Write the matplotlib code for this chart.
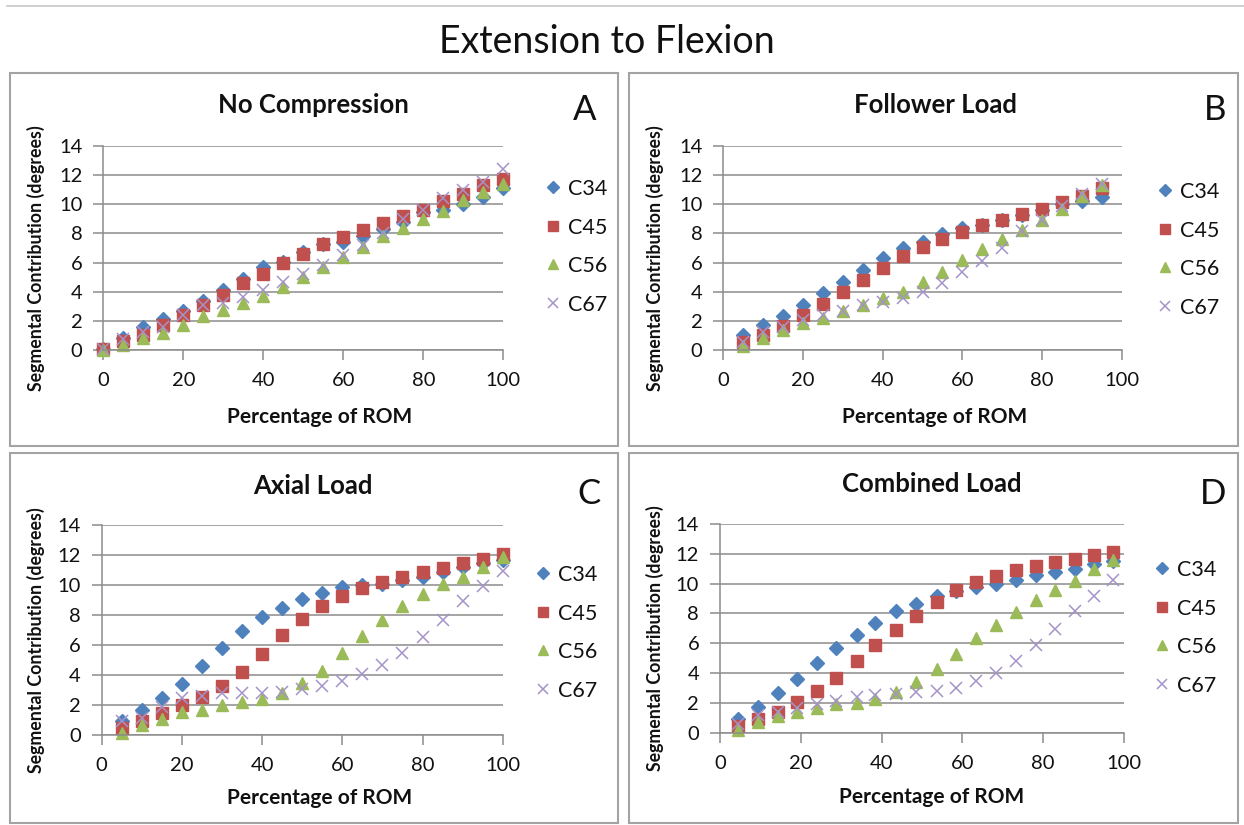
import matplotlib
matplotlib.use('Agg')
import matplotlib.pyplot as plt
from matplotlib.patches import Rectangle
from matplotlib.lines import Line2D

plt.rcParams['font.family'] = ['Lato', 'DejaVu Sans']

series_names = ['C34', 'C45', 'C56', 'C67']
panel_titles = ['No Compression', 'Follower Load', 'Axial Load', 'Combined Load']
panel_letters = ['A', 'B', 'C', 'D']
x_ticks = [0, 20, 40, 60, 80, 100]
y_ticks = [0, 2, 4, 6, 8, 10, 12, 14]

# Panel A: No Compression
x_a = [0, 5, 10, 15, 20, 25, 30, 35, 40, 45, 50, 55, 60, 65, 70, 75, 80, 85, 90, 95, 100]
a_c34 = [0.1, 0.8, 1.55, 2.1, 2.67, 3.35, 4.1, 4.9, 5.7, 6.05, 6.75, 7.3, 7.4, 7.8, 8.3, 8.8, 9.5, 9.6, 10.05, 10.5, 11.1]
a_c45 = [0.1, 0.6, 1.0, 1.7, 2.4, 3.1, 3.77, 4.57, 5.25, 5.95, 6.6, 7.25, 7.75, 8.25, 8.7, 9.2, 9.6, 10.2, 10.7, 11.3, 11.75]
a_c56 = [0.0, 0.35, 0.8, 1.2, 1.75, 2.3, 2.75, 3.25, 3.72, 4.35, 5.0, 5.7, 6.4, 7.1, 7.8, 8.4, 9.0, 9.55, 10.3, 10.85, 11.4]
a_c67 = [0.05, 0.75, 1.25, 1.6, 2.4, 3.1, 3.2, 3.65, 4.15, 4.7, 5.2, 5.8, 6.5, 7.2, 8.0, 9.0, 9.6, 10.4, 11.0, 11.5, 12.45]

# Panel B: Follower Load
x_b = [5, 10, 15, 20, 25, 30, 35, 40, 45, 50, 55, 60, 65, 70, 75, 80, 85, 90, 95]
b_c34 = [1.0, 1.7, 2.3, 3.1, 3.9, 4.7, 5.5, 6.3, 7.0, 7.4, 7.95, 8.4, 8.6, 8.95, 9.25, 9.6, 10.0, 10.25, 10.5]
b_c45 = [0.55, 1.0, 1.65, 2.4, 3.15, 3.95, 4.8, 5.65, 6.45, 7.1, 7.65, 8.1, 8.55, 8.95, 9.35, 9.7, 10.15, 10.55, 11.1]
b_c56 = [0.3, 0.8, 1.4, 1.85, 2.2, 2.65, 3.1, 3.55, 4.0, 4.7, 5.35, 6.15, 6.9, 7.6, 8.25, 8.95, 9.65, 10.6, 11.3]
b_c67 = [0.55, 1.25, 1.6, 2.05, 2.4, 2.65, 3.1, 3.3, 3.55, 4.0, 4.6, 5.35, 6.1, 7.0, 8.15, 8.95, 9.85, 10.7, 11.4]

# Panel C: Axial Load
x_c = [5, 10, 15, 20, 25, 30, 35, 40, 45, 50, 55, 60, 65, 70, 75, 80, 85, 90, 95, 100]
c_c34 = [0.95, 1.67, 2.45, 3.4, 4.6, 5.8, 6.95, 7.9, 8.5, 9.05, 9.5, 9.85, 10.0, 10.1, 10.35, 10.55, 10.9, 11.2, 11.45, 11.65]
c_c45 = [0.45, 0.95, 1.45, 2.0, 2.55, 3.3, 4.2, 5.4, 6.65, 7.75, 8.6, 9.3, 9.8, 10.2, 10.55, 10.85, 11.15, 11.5, 11.75, 12.1]
c_c56 = [0.15, 0.67, 1.1, 1.55, 1.7, 2.0, 2.2, 2.4, 2.8, 3.5, 4.25, 5.45, 6.6, 7.65, 8.6, 9.4, 10.05, 10.55, 11.2, 11.9]
c_c67 = [0.95, 1.15, 1.9, 2.45, 2.6, 2.8, 2.8, 2.8, 2.9, 3.05, 3.3, 3.6, 4.05, 4.65, 5.5, 6.55, 7.7, 8.95, 9.95, 10.95]

# Panel D: Combined Load
x_d = [4.5, 9.5, 14.3, 19.1, 24.0, 28.8, 33.8, 38.4, 43.6, 48.4, 53.6, 58.3, 63.4, 68.4, 73.3, 78.1, 82.9, 87.8, 92.6, 97.4]
d_c34 = [0.9, 1.75, 2.65, 3.6, 4.7, 5.65, 6.55, 7.35, 8.15, 8.6, 9.2, 9.5, 9.75, 10.0, 10.25, 10.55, 10.75, 11.0, 11.3, 11.5]
d_c45 = [0.45, 0.9, 1.4, 2.05, 2.8, 3.7, 4.8, 5.85, 6.9, 7.85, 8.75, 9.55, 10.1, 10.5, 10.9, 11.15, 11.45, 11.65, 11.95, 12.15]
d_c56 = [0.18, 0.7, 1.1, 1.4, 1.65, 1.9, 2.0, 2.25, 2.7, 3.4, 4.3, 5.25, 6.35, 7.25, 8.1, 8.9, 9.6, 10.2, 10.95, 11.6]
d_c67 = [0.6, 1.2, 1.4, 1.65, 1.95, 2.15, 2.4, 2.5, 2.6, 2.7, 2.8, 3.0, 3.5, 4.0, 4.8, 5.85, 6.95, 8.15, 9.2, 10.25]

panels = [
    (x_a, [a_c34, a_c45, a_c56, a_c67]),
    (x_b, [b_c34, b_c45, b_c56, b_c67]),
    (x_c, [c_c34, c_c45, c_c56, c_c67]),
    (x_d, [d_c34, d_c45, d_c56, d_c67]),
]

W, H = 1244, 825
fig = plt.figure(figsize=(W / 100, H / 100), dpi=100)

def fx(px):
    return px / W

def fy(py):
    return 1 - py / H

grid_col = '#8c8c8c'
box_col = '#a3a3a3'
text_col = '#111111'

styles = [
    dict(marker='D', color='#4F81BD', ms=7.2, mec='#4F81BD'),
    dict(marker='s', color='#C0504D', ms=8.5, mec='#C0504D'),
    dict(marker='^', color='#9BBB59', ms=9, mec='#9BBB59'),
    dict(marker='x', color='#A593C8', ms=9, mew=1.1),
]

# top rule
fig.add_artist(Line2D([fx(7), fx(1244)], [fy(6), fy(6)], color='#c8c8c8', lw=1.2))
fig.text(fx(607), fy(42), 'Extension to Flexion', ha='center', va='center', fontsize=27, color=text_col)

# panel boxes (left, top, right, bottom)
boxes = [(10, 73, 618, 446), (629, 73, 1238, 446), (10, 453, 618, 823), (629, 453, 1238, 823)]
# axes areas (left, top, right, bottom) in px
axes_px = [(103.3, 146, 503.3, 350), (723.3, 146, 1121.7, 350), (101.7, 525, 502.7, 735), (720, 524, 1124, 732.7)]
title_pos = [(313, 105), (935, 105), (313, 486), (932, 484)]
letter_pos = [(585, 110), (1215, 110), (589, 494), (1213, 494)]
ylab_pos = [(36, 258), (655, 258), (36, 640), (655, 638)]
xlab_pos = [(320, 417), (935, 417), (320, 798), (932, 797)]
legend_pos = [(544, 179), (1156, 182), (534, 565), (1153, 560)]

for i, (xs, ys_list) in enumerate(panels):
    l, t, r, b = boxes[i]
    fig.add_artist(Rectangle((fx(l), fy(b)), fx(r - l), (b - t) / H, transform=fig.transFigure,
                             fill=False, ec=box_col, lw=1.5))
    al, at, ar, ab = axes_px[i]
    ax = fig.add_axes([fx(al), fy(ab), fx(ar - al), (ab - at) / H])
    for name, ys, st in zip(series_names, ys_list, styles):
        ax.plot(xs, ys, linestyle='none', label=name, clip_on=False, **st)
    ax.set_xlim(0, 100)
    ax.set_ylim(0, 14)
    ax.set_xticks(x_ticks)
    ax.set_yticks(y_ticks)
    ax.yaxis.grid(True, color=grid_col, lw=1.1)
    ax.set_axisbelow(True)
    for s in ['top', 'right']:
        ax.spines[s].set_visible(False)
    for s in ['left', 'bottom']:
        ax.spines[s].set_color(grid_col)
        ax.spines[s].set_linewidth(1.1)
    ax.tick_params(axis='both', direction='out', length=7, width=1.1, color=grid_col,
                   labelsize=14.5, labelcolor=text_col)
    ax.tick_params(axis='y', pad=8)
    ax.tick_params(axis='x', pad=9)
    fig.text(fx(title_pos[i][0]), fy(title_pos[i][1]), panel_titles[i], ha='center', va='center',
             fontsize=18.5, fontweight='bold', color=text_col)
    fig.text(fx(letter_pos[i][0]), fy(letter_pos[i][1]), panel_letters[i], ha='center', va='center',
             fontsize=25, color=text_col)
    fig.text(fx(ylab_pos[i][0]), fy(ylab_pos[i][1]), 'Segmental Contribution (degrees)', ha='center',
             va='center', rotation=90, fontsize=12.8, fontweight='bold', color=text_col)
    fig.text(fx(xlab_pos[i][0]), fy(xlab_pos[i][1]), 'Percentage of ROM', ha='center', va='center',
             fontsize=15, fontweight='bold', color=text_col)
    handles = [Line2D([], [], linestyle='none', **dict(st, ms=st['ms'] * 0.85)) for st in styles]
    fig.legend(handles, series_names, loc='upper left',
               bbox_to_anchor=(fx(legend_pos[i][0]), fy(legend_pos[i][1])),
               frameon=False, fontsize=15.5, labelspacing=0.86, handlelength=0.8,
               handletextpad=0.3, borderpad=0, borderaxespad=0, labelcolor=text_col)

fig.savefig('out.png', dpi=100)
